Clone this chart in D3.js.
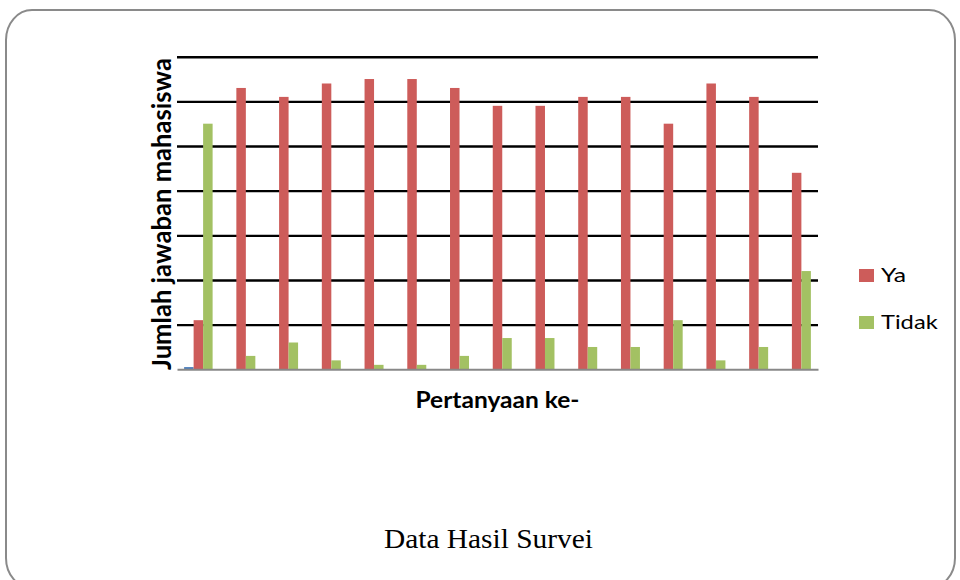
<!DOCTYPE html>
<html>
<head>
<meta charset="utf-8">
<script src="https://cdn.jsdelivr.net/npm/d3@7"></script>
<style>
  html, body { margin: 0; padding: 0; background: #ffffff; }
  svg { display: block; }
</style>
</head>
<body>
<svg id="chart" width="960" height="580"></svg>
<script>
// ---- data ----
const categories = ["1","2","3","4","5","6","7","8","9","10","11","12","13","14","15"];
const seriesNames = ["Lainnya", "Ya", "Tidak"];
const legendNames = ["Ya", "Tidak"];
const lainnya = [0.5, 0, 0, 0, 0, 0, 0, 0, 0, 0, 0, 0, 0, 0, 0];
const ya      = [11, 63, 61, 64, 65, 65, 63, 59, 59, 61, 61, 55, 64, 61, 44];
const tidak   = [55,  3,  6,  2,  1,  1,  3,  7,  7,  5,  5, 11,  2,  5, 22];
const yTicks  = [10, 20, 30, 40, 50, 60, 70];
const yTitle = "Jumlah jawaban mahasiswa";
const xTitle = "Pertanyaan ke-";
const caption = "Data Hasil Survei";

const colors = { "Lainnya": "#4f81bd", "Ya": "#cd5c5a", "Tidak": "#a3c163" };
const valuesBy = { "Lainnya": lainnya, "Ya": ya, "Tidak": tidak };

const svg = d3.select("#chart");

// frame
svg.append("rect")
  .attr("x", 6).attr("y", 10).attr("width", 949).attr("height", 578)
  .attr("rx", 26).attr("ry", 30)
  .attr("fill", "#ffffff").attr("stroke", "#8a8a8a").attr("stroke-width", 2);

// scales
const plot = { left: 177, right: 818, top: 56.7, bottom: 369.3 };
const x0 = d3.scaleBand().domain(categories).range([plot.left, plot.right]).padding(0);
const x1 = d3.scaleBand().domain(seriesNames).range([0, x0.bandwidth()])
  .paddingInner(0).paddingOuter(0.75);
const y = d3.scaleLinear().domain([0, 70]).range([plot.bottom, plot.top]);

// gridlines via axis
const grid = svg.append("g")
  .attr("transform", `translate(${plot.left},0)`)
  .call(d3.axisLeft(y).tickValues(yTicks).tickSize(-(plot.right - plot.left)).tickFormat(""));
grid.select(".domain").remove();
grid.selectAll(".tick line").attr("stroke", "#000").attr("stroke-width", 2.4);

// bars
const groups = svg.append("g").selectAll("g")
  .data(categories)
  .join("g")
  .attr("transform", d => `translate(${x0(d)},0)`);

groups.selectAll("rect")
  .data((c, i) => seriesNames.map(s => ({ s, v: valuesBy[s][i] })))
  .join("rect")
  .attr("x", d => x1(d.s))
  .attr("width", x1.bandwidth())
  .attr("y", d => y(d.v))
  .attr("height", d => y(0) - y(d.v))
  .attr("fill", d => colors[d.s]);

// baseline axis
const xAxis = svg.append("g")
  .attr("transform", `translate(0,${plot.bottom})`)
  .call(d3.axisBottom(x0).tickSize(0).tickFormat(""));
xAxis.select(".domain").attr("stroke", "#888").attr("stroke-width", 2);

// y title
svg.append("text")
  .attr("transform", `translate(171,214) rotate(-90)`)
  .attr("text-anchor", "middle")
  .attr("font-family", "Lato, 'Open Sans', sans-serif")
  .attr("font-weight", "bold")
  .attr("font-size", 26)
  .attr("textLength", 312).attr("lengthAdjust", "spacingAndGlyphs")
  .attr("fill", "#000")
  .text(yTitle);

// x title
svg.append("text")
  .attr("x", 497.5).attr("y", 408.3)
  .attr("text-anchor", "middle")
  .attr("font-family", "Lato, 'Open Sans', sans-serif")
  .attr("font-weight", "bold")
  .attr("font-size", 23)
  .attr("textLength", 164).attr("lengthAdjust", "spacingAndGlyphs")
  .attr("fill", "#000")
  .text(xTitle);

// legend
const legend = svg.append("g");
const legY = [269, 316];
const legW = [25, 56.7];
legendNames.forEach((n, i) => {
  legend.append("rect")
    .attr("x", 859).attr("y", legY[i]).attr("width", 15).attr("height", 13)
    .attr("fill", colors[n]);
  legend.append("text")
    .attr("x", 881).attr("y", legY[i] + 13)
    .attr("font-family", "Lato, 'Open Sans', sans-serif")
    .attr("font-size", 20)
    .attr("textLength", legW[i]).attr("lengthAdjust", "spacingAndGlyphs")
    .attr("fill", "#000")
    .text(n);
});

// caption
svg.append("text")
  .attr("x", 488.5).attr("y", 548)
  .attr("text-anchor", "middle")
  .attr("font-family", "'Liberation Serif', 'Times New Roman', serif")
  .attr("font-size", 27)
  .attr("textLength", 209).attr("lengthAdjust", "spacingAndGlyphs")
  .attr("fill", "#000")
  .text(caption);
</script>
</body>
</html>
